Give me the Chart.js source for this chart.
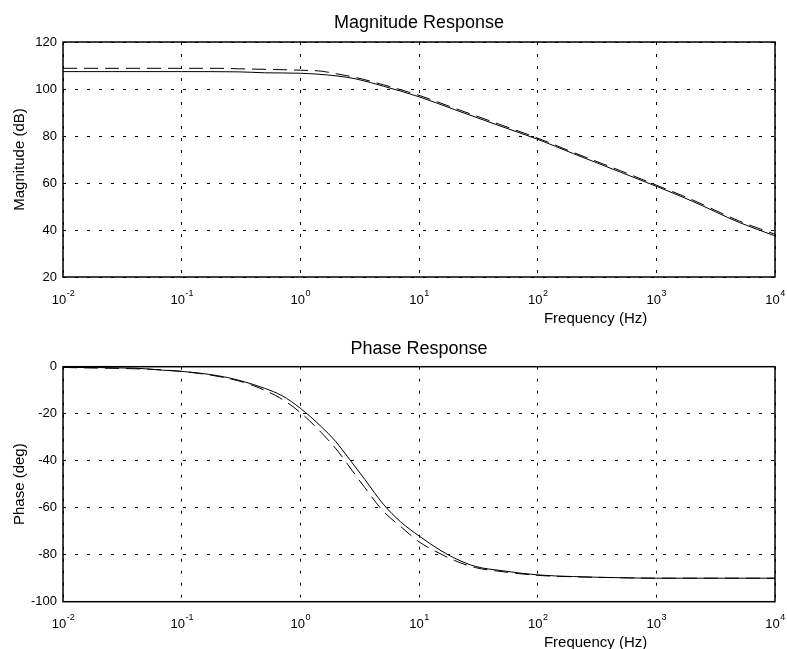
<!DOCTYPE html>
<html>
<head>
<meta charset="utf-8">
<script src="https://cdn.jsdelivr.net/npm/chart.js@4.4.1/dist/chart.umd.min.js"></script>
<style>
  body { margin: 0; background: #fff; }
  #wrap { position: relative; width: 787px; height: 649px; overflow: hidden; }
  canvas { position: absolute; left: 0; }
</style>
</head>
<body>
<div id="wrap">
  <canvas id="mag" width="787" height="330" style="top:0"></canvas>
  <canvas id="phase" width="787" height="324" style="top:325px"></canvas>
</div>
<script>
var FONT = "'Liberation Sans', Arial, Helvetica, sans-serif";
Chart.defaults.font.family = FONT;
Chart.defaults.color = '#000';

// axis ticks
var decades = [-2, -1, 0, 1, 2, 3, 4];
var magTicks = [20, 40, 60, 80, 100, 120];
var phaseTicks = [-100, -80, -60, -40, -20, 0];

// magnitude (dB)
var magFreq = [0.01, 0.1, 0.3, 0.5, 1, 2, 3, 5, 10, 20, 50, 100, 200, 500, 1000, 2000, 5000, 10000];
var magSolid = [107.4, 107.4, 107.3, 106.9, 106.7, 105.6, 104.2, 101.2, 96.7, 91.2, 84.0, 78.6, 72.5, 64.6, 58.6, 52.3, 43.2, 37.5];
var magDashFreq = [0.01, 0.2, 0.3, 1, 1.5, 2, 3, 5, 10, 20, 50, 100, 200, 500, 1000, 2000, 5000, 10000];
var magDashed = [108.8, 108.8, 108.6, 108.0, 107.6, 106.5, 104.8, 101.8, 97.3, 91.8, 84.6, 79.1, 73.0, 65.2, 59.1, 52.9, 43.8, 38.2];

// phase (deg)
var phaseFreq = [0.01, 0.04, 0.07, 0.1, 0.2, 0.3, 0.5, 0.7, 1, 1.5, 2, 2.5, 3.5, 5, 7, 10, 15, 20, 30, 50, 100, 200, 500, 1000, 10000];
var phaseSolid = [-0.3, -0.6, -1.5, -2, -3.8, -5.7, -9.2, -12.3, -17.7, -25.5, -32, -38.3, -48, -58.5, -66, -72, -78, -81.5, -85, -86.8, -88.6, -89.3, -89.8, -90, -90];
var phaseDashFreq = [0.01, 0.1, 0.3, 0.5, 0.7, 1, 1.5, 2, 2.5, 3.5, 5, 7, 10, 15, 20, 30, 50, 100, 200, 500, 1000, 10000];
var phaseDashed = [-0.3, -2, -6, -10, -13.8, -19.5, -28, -35, -41.5, -51.5, -61.5, -68, -74.5, -79.5, -82.5, -85.5, -87.2, -88.8, -89.4, -89.8, -90, -90];

function pts(xs, ys) {
    return xs.map(function (x, i) { return {x: x, y: ys[i]}; });
}

// box round the plot, 10^n labels and the x title
var frame = {
    id: 'frame',
    afterDraw: function (chart, args, opts) {
        var ctx = chart.ctx;
        var a = chart.chartArea;
        var xs = chart.scales.x;
        ctx.save();
        ctx.strokeStyle = '#000';
        ctx.lineWidth = 1.5;
        ctx.strokeRect(a.left, a.top, a.right - a.left, a.bottom - a.top);

        ctx.fillStyle = '#000';
        ctx.textBaseline = 'alphabetic';
        ctx.textAlign = 'left';
        var base = a.bottom + 26.5;
        decades.forEach(function (e) {
            var px = xs.getPixelForValue(Math.pow(10, e));
            ctx.font = '13px ' + FONT;
            var w1 = ctx.measureText('10').width;
            ctx.font = '9px ' + FONT;
            var w2 = ctx.measureText(String(e)).width;
            var x0 = px - (w1 + w2) / 2;
            ctx.font = '13px ' + FONT;
            ctx.fillText('10', x0, base);
            ctx.font = '9px ' + FONT;
            ctx.fillText(String(e), x0 + w1 + 0.5, base - 8);
        });

        ctx.font = '15px ' + FONT;
        ctx.textAlign = 'center';
        ctx.fillText(opts.xTitle, a.left + 0.748 * (a.right - a.left), a.bottom + 45.5);
        ctx.restore();
    }
};

function xAxis(h) {
    return {
        type: 'logarithmic',
        min: 0.01,
        max: 10000,
        afterBuildTicks: function (s) {
            s.ticks = decades.map(function (e) { return {value: Math.pow(10, e)}; });
        },
        afterFit: function (s) { s.height = h; },
        ticks: {display: false},
        grid: {color: '#000', lineWidth: 1, drawTicks: false},
        border: {display: false, dash: [3, 9]}
    };
}

function yAxis(tickList, title) {
    return {
        min: tickList[0],
        max: tickList[tickList.length - 1],
        afterBuildTicks: function (s) {
            s.ticks = tickList.map(function (v) { return {value: v}; });
        },
        afterFit: function (s) { s.width = 63; },
        ticks: {font: {size: 13}, padding: 6, color: '#000'},
        grid: {color: '#000', lineWidth: 1, drawTicks: false},
        border: {display: false, dash: [3, 9]},
        title: {display: true, text: title, font: {size: 15}, padding: {top: 10.5, bottom: 0}, color: '#000'}
    };
}

function line(data, dashed) {
    return {
        data: data,
        borderColor: '#000',
        borderWidth: 1,
        borderDash: dashed ? [14, 7] : [],
        pointRadius: 0,
        fill: false,
        cubicInterpolationMode: 'monotone'
    };
}

var magChart = new Chart(document.getElementById('mag').getContext('2d'), {
    type: 'line',
    data: {
        datasets: [
            line(pts(magDashFreq, magDashed), true),
            line(pts(magFreq, magSolid), false)
        ]
    },
    options: {
        responsive: false,
        animation: false,
        layout: {padding: {left: 0, right: 12, top: 0, bottom: 0}},
        scales: {
            x: xAxis(53),
            y: yAxis(magTicks, 'Magnitude (dB)')
        },
        plugins: {
            legend: {display: false},
            tooltip: {enabled: false},
            title: {
                display: true, text: 'Magnitude Response', fullSize: false,
                font: {size: 18, weight: 'normal'}, color: '#000',
                padding: {top: 12, bottom: 8.4}
            },
            frame: {xTitle: 'Frequency (Hz)'}
        }
    },
    plugins: [frame]
});

var phaseChart = new Chart(document.getElementById('phase').getContext('2d'), {
    type: 'line',
    data: {
        datasets: [
            line(pts(phaseDashFreq, phaseDashed), true),
            line(pts(phaseFreq, phaseSolid), false)
        ]
    },
    options: {
        responsive: false,
        animation: false,
        layout: {padding: {left: 0, right: 12, top: 0, bottom: 0}},
        scales: {
            x: xAxis(47.3),
            y: yAxis(phaseTicks, 'Phase (deg)')
        },
        plugins: {
            legend: {display: false},
            tooltip: {enabled: false},
            title: {
                display: true, text: 'Phase Response', fullSize: false,
                font: {size: 18, weight: 'normal'}, color: '#000',
                padding: {top: 12.9, bottom: 7.2}
            },
            frame: {xTitle: 'Frequency (Hz)'}
        }
    },
    plugins: [frame]
});
</script>
</body>
</html>
